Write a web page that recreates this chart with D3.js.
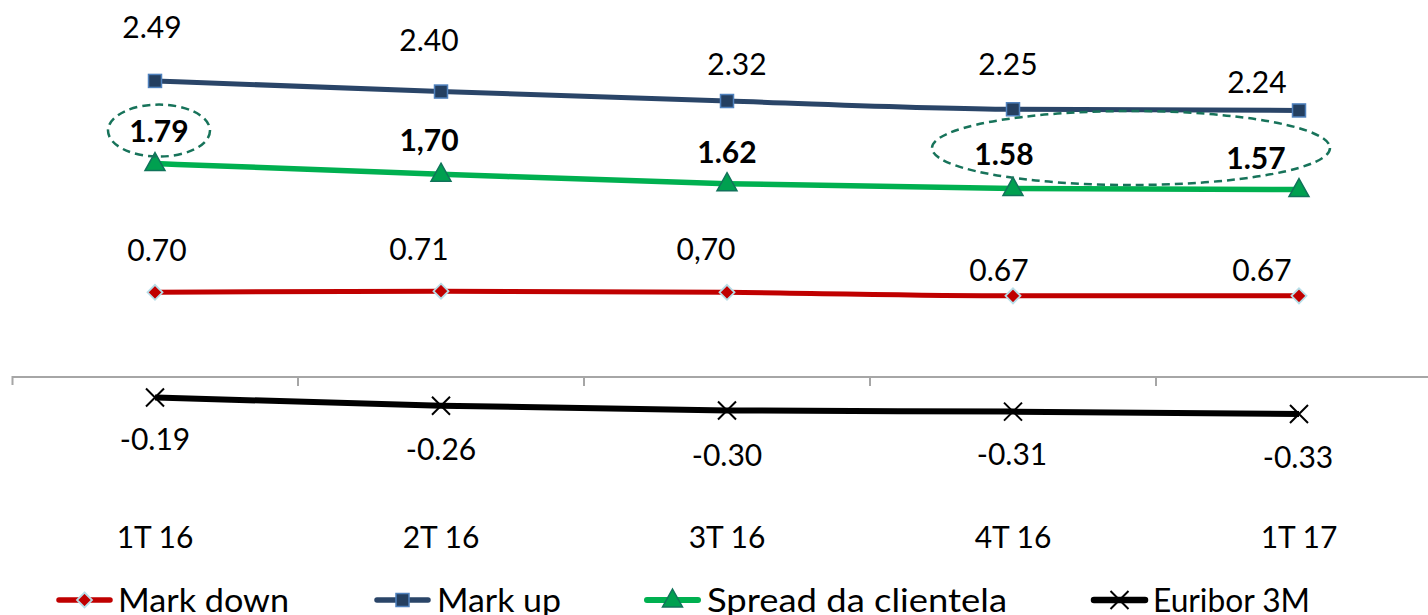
<!DOCTYPE html>
<html><head><meta charset="utf-8">
<script src="https://cdn.jsdelivr.net/npm/d3@7"></script>
<style>
html,body{margin:0;padding:0;background:#fff;}
svg{display:block;font-family:Lato,"Open Sans",sans-serif;}
</style></head>
<body><svg id="c" width="1428" height="615"></svg>
<script>
const categories = ["1T 16","2T 16","3T 16","4T 16","1T 17"];
const markDown = [0.70, 0.71, 0.70, 0.67, 0.67];
const markUp = [2.49, 2.40, 2.32, 2.25, 2.24];
const spread = [1.79, 1.70, 1.62, 1.58, 1.57];
const euribor = [-0.19, -0.26, -0.30, -0.31, -0.33];
const markDownLabels = ["0.70","0.71","0,70","0.67","0.67"];
const markUpLabels = ["2.49","2.40","2.32","2.25","2.24"];
const spreadLabels = ["1.79","1,70","1.62","1.58","1.57"];
const euriborLabels = ["-0.19","-0.26","-0.30","-0.31","-0.33"];
const legendNames = ["Mark down","Mark up","Spread da clientela","Euribor 3M"];

// label offsets (layout, px) relative to their points
const offMarkUp = [[-3,-53],[-12,-51],[10,-37],[-5,-45],[-42,-28]];
const offSpread = [[4,-32],[-12,-34],[0,-31],[-9,-34],[-43,-31]];
const offMarkDown = [[2,-42],[-22,-42],[-21,-43],[-14,-25],[-37,-25]];
const offEuribor = [[0,42],[0,44],[0,45],[-1,43],[-1,44]];

const svg = d3.select("#c");
const x = d3.scaleBand().domain(categories).range([12, 1442]).padding(0);
const y = d3.scaleLinear().domain([-0.5, 2.5]).range([375 + 0.5*118.1, 375 - 2.5*118.1]);
const cx = c => x(c) + x.bandwidth()/2;

// axis
const axisY = y(0) + 2;
const ax = svg.append("g").attr("transform", `translate(0,${axisY})`)
  .call(d3.axisBottom(x).tickSize(0).tickFormat(""));
ax.select(".domain").attr("stroke", "#a6a6a6").attr("stroke-width", 2).attr("d", `M12.5,8V0H1442`);
svg.append("g").selectAll("line").data(categories.slice(1)).join("line")
  .attr("x1", d => x(d)).attr("x2", d => x(d))
  .attr("y1", axisY).attr("y2", axisY + 9)
  .attr("stroke", "#a6a6a6").attr("stroke-width", 2);

// category labels
svg.append("g").selectAll("text").data(categories).join("text")
  .attr("x", d => cx(d)).attr("y", 537).attr("dy", "0.35em")
  .attr("text-anchor", "middle").attr("font-size", 30).attr("fill", "#000")
  .text(d => d);

const line = d3.line().x((d,i) => cx(categories[i])).y(d => y(d)).curve(d3.curveMonotoneX);

const series = [
  {name:"Mark down", vals: markDown, color:"#C00000", width:5, marker:"diamond", labels: markDownLabels, off: offMarkDown, bold:false},
  {name:"Mark up", vals: markUp, color:"#2A4568", width:5, marker:"square", labels: markUpLabels, off: offMarkUp, bold:false},
  {name:"Spread da clientela", vals: spread, color:"#00B050", width:5.5, marker:"triangle", labels: spreadLabels, off: offSpread, bold:true},
  {name:"Euribor 3M", vals: euribor, color:"#000000", width:6, marker:"x", labels: euriborLabels, off: offEuribor, bold:false}
];

function drawMarker(g, type, px, py) {
  if (type === "diamond") {
    g.append("path").attr("d", `M${px},${py-7.5}L${px+7.5},${py}L${px},${py+7.5}L${px-7.5},${py}Z`)
      .attr("fill", "#C00000").attr("stroke", "#B7DEE8").attr("stroke-width", 1.8);
  } else if (type === "square") {
    g.append("rect").attr("x", px-6.5).attr("y", py-6.5).attr("width", 13).attr("height", 13)
      .attr("fill", "#243F60").attr("stroke", "#4F81BD").attr("stroke-width", 1.5);
  } else if (type === "triangle") {
    g.append("path").attr("d", `M${px},${py-11}L${px+10},${py+7}L${px-10},${py+7}Z`)
      .attr("fill", "#00A050").attr("stroke", "#10735A").attr("stroke-width", 1.5);
  } else {
    g.append("path").attr("d", `M${px-9},${py-9}L${px+9},${py+9}M${px+9},${py-9}L${px-9},${py+9}`)
      .attr("stroke", "#000").attr("stroke-width", 2).attr("fill", "none");
  }
}

series.forEach(s => {
  const g = svg.append("g");
  g.append("path").datum(s.vals).attr("d", line)
    .attr("fill", "none").attr("stroke", s.color).attr("stroke-width", s.width).attr("stroke-linejoin","round");
  s.vals.forEach((v,i) => drawMarker(g, s.marker, cx(categories[i]), y(v)));
  g.selectAll("text").data(s.vals).join("text")
    .attr("x", (v,i) => cx(categories[i]) + s.off[i][0])
    .attr("y", (v,i) => y(v) + s.off[i][1])
    .attr("dy", "0.35em").attr("text-anchor", "middle")
    .attr("font-size", 30).attr("font-weight", s.bold ? 700 : 400).attr("fill", "#000")
    .text((v,i) => s.labels[i]);
});

// dashed ellipses highlighting spread labels
const e1x = cx(categories[0]) + 4, e1y = y(spread[0]) - 33;
svg.append("ellipse").attr("cx", e1x).attr("cy", e1y).attr("rx", 51).attr("ry", 26)
  .attr("fill", "none").attr("stroke", "#17735A").attr("stroke-width", 2.5).attr("stroke-dasharray", "8,5");
const e2x = (cx(categories[3]) + cx(categories[4]))/2 - 25, e2y = (y(spread[3]) + y(spread[4]))/2 - 41;
svg.append("ellipse").attr("cx", e2x).attr("cy", e2y).attr("rx", 199).attr("ry", 37)
  .attr("fill", "none").attr("stroke", "#17735A").attr("stroke-width", 2.5).attr("stroke-dasharray", "8,5");

// legend
const legX = [57, 375, 645, 1092];
const legTX = [118, 437, 707, 1153];
const legW = [171, 124, 300, 157];
const legY = 600;
series.forEach((s,i) => {
  const g = svg.append("g");
  g.append("line").attr("x1", legX[i]+2).attr("x2", legX[i]+53).attr("y1", legY).attr("y2", legY)
    .attr("stroke", s.color).attr("stroke-width", s.width + 0.5).attr("stroke-linecap","round");
  drawMarker(g, s.marker, legX[i]+27.5, legY);
  g.append("text").attr("x", legTX[i]).attr("y", 612)
    .attr("font-size", 33).attr("fill", "#000")
    .attr("textLength", legW[i]).attr("lengthAdjust", "spacingAndGlyphs")
    .text(legendNames[i]);
});
</script></body></html>
